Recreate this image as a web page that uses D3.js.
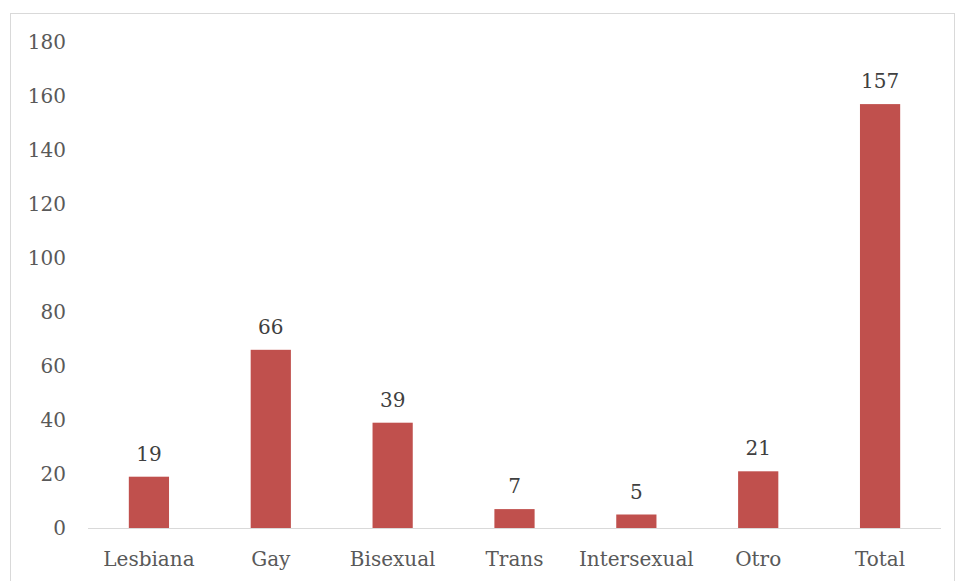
<!DOCTYPE html>
<html>
<head>
<meta charset="utf-8">
<script src="https://cdn.jsdelivr.net/npm/d3@7"></script>
<style>
  body { margin: 0; background: #fff; }
  text { font-family: "DejaVu Serif", serif; }
</style>
</head>
<body>
<div id="chart"></div>
<script>
// chart data
const categories = ['Lesbiana', 'Gay', 'Bisexual', 'Trans', 'Intersexual', 'Otro', 'Total'];
const values = [19, 66, 39, 7, 5, 21, 157];
const yTicks = [0, 20, 40, 60, 80, 100, 120, 140, 160, 180];

const width = 956;
const height = 581;

const svg = d3.select('#chart')
  .append('svg')
  .attr('width', width)
  .attr('height', height);

// outer frame
svg.append('rect')
  .attr('x', 10.5)
  .attr('y', 13.5)
  .attr('width', 944)
  .attr('height', 580)
  .attr('fill', 'none')
  .attr('stroke', '#d9d9d9');

const x = d3.scaleBand()
  .domain(categories)
  .range([88, 941])
  .paddingInner(0.67)
  .paddingOuter(0.335);

const y = d3.scaleLinear()
  .domain([0, 180])
  .range([528, 42]);

// y axis labels
svg.append('g')
  .selectAll('text')
  .data(yTicks)
  .enter()
  .append('text')
  .attr('x', 66)
  .attr('y', (d) => y(d))
  .attr('dy', '0.35em')
  .attr('text-anchor', 'end')
  .attr('fill', '#595959')
  .attr('font-size', 20)
  .text((d) => d);

// bars
svg.append('g')
  .selectAll('rect')
  .data(values)
  .enter()
  .append('rect')
  .attr('x', (d, i) => x(categories[i]))
  .attr('y', (d) => y(d))
  .attr('width', x.bandwidth())
  .attr('height', (d) => y(0) - y(d))
  .attr('fill', '#c0504d');

// baseline
svg.append('line')
  .attr('x1', 88)
  .attr('x2', 941)
  .attr('y1', y(0) + 0.5)
  .attr('y2', y(0) + 0.5)
  .attr('stroke', '#d9d9d9')
  .attr('stroke-width', 1);

// value labels
svg.append('g')
  .selectAll('text')
  .data(values)
  .enter()
  .append('text')
  .attr('x', (d, i) => x(categories[i]) + x.bandwidth() / 2)
  .attr('y', (d) => y(d) - 23)
  .attr('dy', '0.35em')
  .attr('text-anchor', 'middle')
  .attr('fill', '#404040')
  .attr('font-size', 20)
  .text((d) => d);

// category labels
svg.append('g')
  .selectAll('text')
  .data(categories)
  .enter()
  .append('text')
  .attr('x', (d) => x(d) + x.bandwidth() / 2)
  .attr('y', 559)
  .attr('dy', '0.35em')
  .attr('text-anchor', 'middle')
  .attr('fill', '#595959')
  .attr('font-size', 20)
  .text((d) => d);
</script>
</body>
</html>
